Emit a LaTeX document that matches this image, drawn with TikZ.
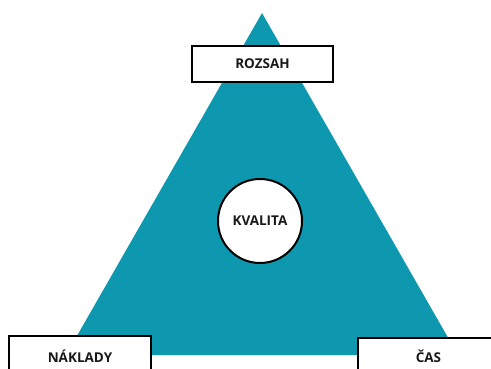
\documentclass[tikz,border=0pt]{standalone}
\usepackage{fontspec}
\setmainfont{Open Sans}
\definecolor{teal1}{RGB}{14,152,176}
\begin{document}
\begin{tikzpicture}[x=1pt,y=-1pt,
  lbl/.style={font=\bfseries\fontsize{13.5}{16}\selectfont, text=black!90},
  box/.style={draw=black, line width=2pt, fill=white, inner sep=0pt, lbl}]
\useasboundingbox (0,0) rectangle (491,369);
\begin{scope}
\clip (0,0) rectangle (491,369);
\fill[teal1] (262,13) -- (458,355) -- (66,355) -- cycle;
\node[box, minimum width=141pt, minimum height=36pt] (rozsah) at (262.5,64) {ROZSAH};
\node[draw=black, line width=2pt, fill=white, circle, minimum size=84pt, inner sep=0pt, lbl] (kvalita) at (260,221) {KVALITA};
\draw[line width=2pt, fill=white] (9,336) rectangle (151,380);
\node[lbl] (naklady) at (80,356) {NÁKLADY};
\draw[line width=2pt, fill=white] (358,338) rectangle (500,380);
\node[lbl] (cas) at (428.5,356) {ČAS};
\end{scope}
\end{tikzpicture}
\end{document}
